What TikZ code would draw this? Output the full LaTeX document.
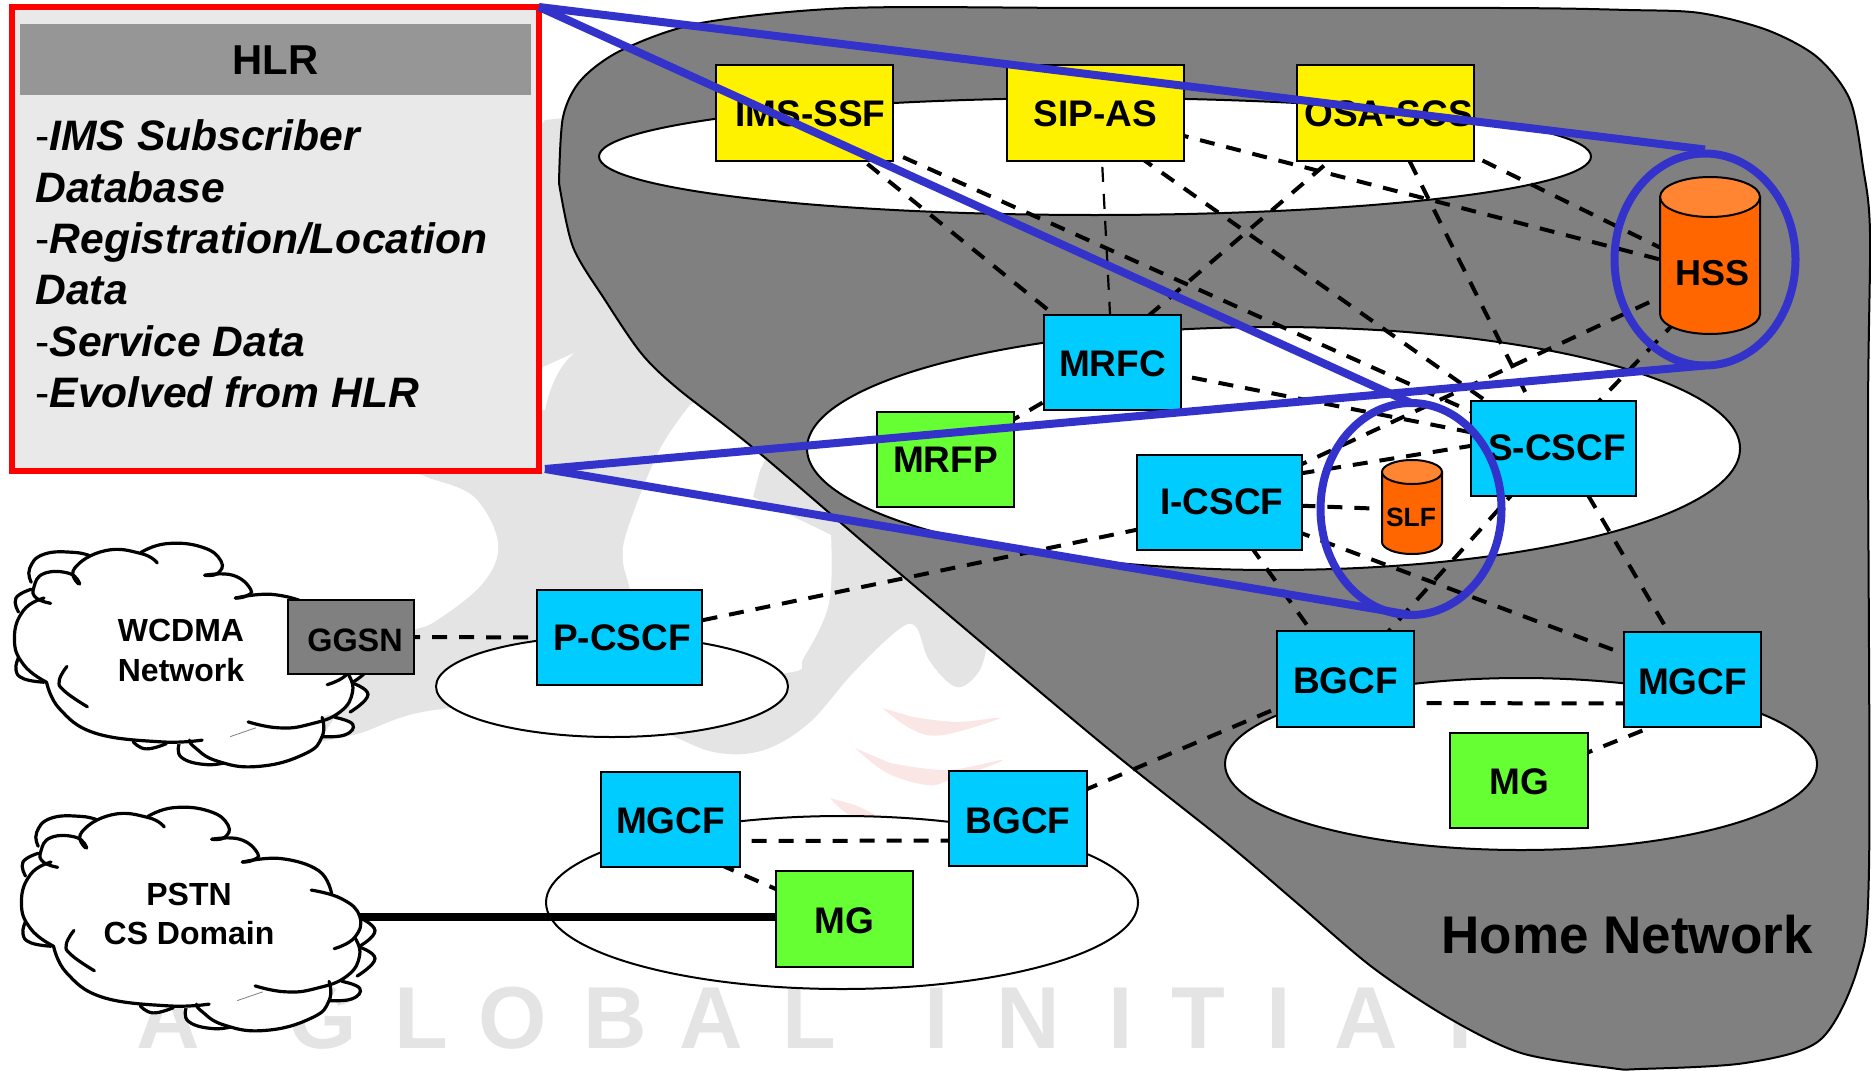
\documentclass[tikz,border=0pt]{standalone}
\usepackage{fontspec}
\setmainfont{Liberation Sans}
\usetikzlibrary{shapes.geometric}
\pgfdeclarelayer{base}
\pgfdeclarelayer{links}
\pgfdeclarelayer{overlay}
\pgfsetlayers{base,links,main,overlay}
\definecolor{cyanbox}{HTML}{00CCFF}
\definecolor{greenbox}{HTML}{66FF33}
\definecolor{orangedb}{HTML}{FF6600}
\definecolor{orangetop}{HTML}{FF8533}
\definecolor{homegrey}{HTML}{808080}
\definecolor{panel}{HTML}{E9E9E9}
\definecolor{panelhead}{HTML}{969696}
\definecolor{ringblue}{HTML}{3333CC}
\definecolor{wmgrey}{HTML}{E4E4E4}
\definecolor{wmpink}{HTML}{FBE6E6}
\tikzset{
  box/.style={rectangle,draw=black,line width=1pt,inner sep=0pt,outer sep=0pt,
    text height=14.5pt,text depth=0pt,
    font=\fontsize{18.5}{20}\selectfont\bfseries,text=black},
  ybox/.style={box,fill=yellow,minimum width=88.5pt,minimum height=48pt,text height=13.3pt},
  cbox/.style={box,fill=cyanbox,minimum width=68.5pt,minimum height=47.5pt},
  cwide/.style={box,fill=cyanbox,minimum width=82.5pt,minimum height=47.5pt},
  gbox/.style={box,fill=greenbox,minimum width=68.5pt,minimum height=47.5pt},
  oval/.style={ellipse,draw=black,fill=white,line width=1pt,inner sep=0pt,outer sep=0pt},
  ring/.style={ellipse,draw=ringblue,line width=4pt,inner sep=0pt,outer sep=0pt,
    minimum width=90.5pt,minimum height=106pt},
  link/.style={draw=black,line width=2pt,dash pattern=on 7.5pt off 6pt},
  thinlink/.style={draw=black,line width=1.1pt,dash pattern=on 7.5pt off 6pt},
  beam/.style={draw=ringblue,line width=4pt},
  cloudline/.style={draw=black,line width=1.6pt,line cap=round},
  dblabel/.style={inner sep=0pt,outer sep=0pt,font=\bfseries,text=black},
}
\newcommand{\wml}[2]{\makebox[0pt][c]{#1}\hspace{#2pt}}
\newcommand{\cloudshape}{%
  \foreach \lobe in {
    {(75,930)(72,890)(100,850)(160,845)(195,858)},
    {(75,950)(45,975)(50,1015)},
    {(50,1145)(45,1180)(60,1205)(100,1215)},
    {(700,1130)(735,1170)(705,1215)},
    {(700,1215)(735,1250)(700,1300)},
    {(670,1315)(705,1335)(690,1365)(645,1370)},
    {(275,1385)(300,1405)(340,1390)},
    {(365,1390)(370,1430)(420,1450)(465,1440)}}{
    \draw[cloudline,fill=white] plot[smooth,tension=.8] coordinates \lobe;
  }
  \fill[white] plot[smooth,tension=.5] coordinates {(100,975)(80,945)(100,905)(160,880)(220,840)(290,845)(340,820)(410,830)(445,870)(440,905)(470,910)(505,950)(495,970)(550,965)(630,1000)(650,1065)(670,1080)(705,1130)(695,1190)(705,1240)(680,1300)(645,1315)(645,1370)(610,1420)(520,1455)(440,1440)(395,1400)(330,1385)(200,1360)(130,1290)(105,1215)(60,1165)(42,1090)(60,1010)} -- cycle;
  \draw[cloudline] plot[smooth,tension=.8] coordinates {(170,935)(150,905)(100,905)(80,945)(85,975)(113,990)};
  \draw[cloudline] plot[smooth,tension=.8] coordinates {(168,935)(160,890)(220,840)(290,848)(322,875)};
  \draw[cloudline] plot[smooth,tension=.8] coordinates {(290,845)(340,820)(410,830)(447,870)(440,905)(415,910)};
  \draw[cloudline] plot[smooth,tension=.8] coordinates {(415,910)(470,910)(505,950)(495,970)(475,975)};
  \draw[cloudline] plot[smooth,tension=.7] coordinates {(475,975)(550,965)(625,1000)(650,1065)};
  \draw[cloudline] plot[smooth,tension=.8] coordinates {(610,1055)(670,1080)(705,1130)(695,1190)(655,1222)};
  \draw[cloudline] plot[smooth,tension=.8] coordinates {(695,1190)(705,1240)(680,1300)(620,1335)(560,1345)(500,1328)};
  \draw[cloudline] plot[smooth,tension=.8] coordinates {(645,1315)(645,1370)(610,1420)(520,1455)(440,1440)(395,1400)(385,1380)};
  \draw[cloudline] plot[smooth,tension=.7] coordinates {(410,1380)(330,1385)(200,1360)(130,1290)(105,1215)};
  \draw[cloudline] plot[smooth,tension=.8] coordinates {(185,1285)(140,1240)(130,1210)(145,1170)};
  \draw[cloudline] plot[smooth,tension=.8] coordinates {(105,1215)(60,1165)(42,1090)(60,1010)(100,975)};
  \draw[black!50,line width=.4pt] (465,1370) -- (515,1345);
}
\begin{document}
\begin{tikzpicture}[x=0.5pt,y=-0.5pt]
\useasboundingbox (0,0) rectangle (1871,1070);
\begin{pgfonlayer}{base}
  % watermark
  \fill[wmgrey] (350,400) -- (545,120) -- (640,110) -- (1000,600) -- (987,647)
    -- plot[smooth,tension=.6] coordinates {(987,647)(978,673)(956,687)(929,660)(916,627)(898,630)(853,673)(809,723)(764,750)(719,753)(675,737)(600,700)(434,710)(357,734)(300,745)}
    -- (300,600) -- cycle;
  \fill[white] plot[smooth,tension=.6] coordinates {(415,473)(429,478)(474,497)(498,543)(483,583)(434,622)(400,635)(320,680)(250,650)} -- (300,470) -- cycle;
  \fill[white] plot[smooth,tension=.6] coordinates {(690,405)(659,451)(628,528)(623,560)(630,590)(650,680)(786,673)(804,657)(829,603)(831,535)}
    -- (753,497) -- (760,470) -- (775,440) -- (720,390) -- cycle;
  \fill[white] (574,353) -- (543,367) -- (530,410) -- (545,410) .. controls (550,385) and (560,365) .. (574,353);
  \fill[wmpink] plot[smooth,tension=.6] coordinates {(882,708)(913,730)(943,735)(1000,718)(957,722)(913,717)} -- cycle;
  \fill[wmpink] plot[smooth,tension=.6] coordinates {(855,748)(887,773)(927,785)(950,780)(1003,760)(947,770)(890,763)} -- cycle;
  \fill[wmpink] plot[smooth,tension=.6] coordinates {(830,798)(850,815)(880,818)(855,805)} -- cycle;
  \node[name=wmtext,anchor=base west,inner sep=0pt,text=wmgrey,font=\fontsize{44}{44}\selectfont\bfseries] at (168,1048)
    {\wml{A}{77}\wml{G}{49.5}\wml{L}{45.5}\wml{O}{51.5}\wml{B}{48}\wml{A}{49}\wml{L}{63.5}\wml{I}{46}\wml{N}{46}\wml{I}{39}\wml{T}{40}\wml{I}{44}\wml{A}{47}\wml{T}{0}};
  % home network
  \draw[black,line width=1pt,fill=homegrey] plot[smooth,tension=.5] coordinates {(559,183)(563,117)(581,80)(622,50)(701,23)(850,8)(1100,8)(1500,8)(1628,10)(1700,13)(1767,30)(1817,57)(1850,100)(1863,167)(1870,233)(1868,420)(1869,867)(1858,967)(1820,1040)(1745,1063)(1640,1069)(1611,1068)(1521,1053)(1447,1017)(1372,967)(1297,903)(1223,840)(1100,742)(904,577)(757,451)(677,388)(641,353)(605,300)(573,247)(559,183)} -- cycle;
  % ovals
  \node[oval,name=ovaltop,minimum width=496pt,minimum height=58.5pt] at (1095,156.5) {};
  \node[oval,name=ovalmid,minimum width=466.5pt,minimum height=121.5pt] at (1273.5,448.5) {};
  \node[oval,name=ovalright,minimum width=296pt,minimum height=86pt] at (1521,764) {};
  \node[oval,name=ovalp,minimum width=176pt,minimum height=50.5pt] at (612,686.5) {};
  \node[oval,name=ovalb,minimum width=296pt,minimum height=86.5pt] at (842,902.5) {};
  % clouds
  \begin{scope}[shift={(0,520)},x=0.2551pt,y=-0.1754pt]\cloudshape\end{scope}
  \begin{scope}[shift={(-7,256)},x=0.2551pt,y=-0.1754pt]\cloudshape\end{scope}
  % HLR panel
  \node[rectangle,name=hlr,draw=red,line width=3pt,fill=panel,inner sep=0pt,outer sep=0pt,minimum width=263.5pt,minimum height=232pt] at (275.5,239) {};
  \node[rectangle,name=hlrhead,fill=panelhead,inner sep=0pt,minimum width=255.5pt,minimum height=35.5pt,text height=15.5pt,text depth=0pt,font=\fontsize{20.9}{22}\selectfont\bfseries] at (275.5,59.5) {HLR};
  \node[name=hlrbody,anchor=north west,inner sep=0pt,align=left,font=\fontsize{21.3}{25.7}\selectfont\bfseries\itshape] at (35,119.5)
    {{\normalfont -}IMS Subscriber\\Database\\{\normalfont -}Registration/Location\\Data\\{\normalfont -}Service Data\\{\normalfont -}Evolved from HLR};
\end{pgfonlayer}

% database cylinders
\draw[black,line width=1pt,fill=orangedb] (1660,197) -- (1660,314) arc[start angle=180,end angle=0,x radius=50,y radius=20] -- (1760,197) -- cycle;
\draw[black,line width=1pt,fill=orangetop] (1710,197) ellipse[x radius=50,y radius=20];
\draw[black,line width=1pt,fill=orangedb] (1382,472) -- (1382,542) arc[start angle=180,end angle=0,x radius=30,y radius=12] -- (1442,472) -- cycle;
\draw[black,line width=1pt,fill=orangetop] (1412,472) ellipse[x radius=30,y radius=12];
\node[dblabel,name=hss,font=\fontsize{18}{20}\selectfont\bfseries] at (1712,273) {HSS};
\node[dblabel,name=slf,font=\fontsize{13.2}{15}\selectfont\bfseries] at (1411,517) {SLF};

% boxes
\node[ybox,name=ims] at (804.5,113) {\hspace*{6pt}IMS-SSF};
\node[ybox,name=sip] at (1095.5,113) {SIP-AS};
\node[ybox,name=osa] at (1385.5,113) {\hspace*{3pt}OSA-SCS};
\node[cbox,name=mrfc] at (1112.5,362) {MRFC};
\node[gbox,name=mrfp,text height=13.3pt] at (945.5,459) {MRFP};
\node[cwide,name=icscf,text height=11.5pt] at (1219.5,502.5) {\hspace*{2.4pt}I-CSCF};
\node[cwide,name=scscf,text height=12.1pt] at (1553.5,448.5) {\hspace*{3.6pt}S-CSCF};
\node[cbox,name=bgcf,minimum height=48pt] at (1345.5,679) {BGCF};
\node[cbox,name=mgcf] at (1692.5,679.5) {MGCF};
\node[gbox,name=mg,minimum width=69pt] at (1519,780) {MG};
\node[cwide,name=pcscf,text height=13.3pt] at (619.5,637.5) {\hspace*{2.4pt}P-CSCF};
\node[box,name=ggsn,fill=homegrey,minimum width=63pt,minimum height=37pt,text height=14.8pt,font=\fontsize{16.2}{18}\selectfont\bfseries] at (351,637) {\hspace*{4pt}GGSN};
\node[cbox,name=mgcfb,minimum width=69.5pt] at (670.5,819) {MGCF};
\node[cbox,name=bgcfb,minimum width=69pt] at (1018,818.5) {BGCF};
\node[gbox,name=mgb,minimum height=48pt] at (844.5,919) {MG};

% free-standing labels
\node[inner sep=0pt,name=homelabel,font=\fontsize{26.5}{28}\selectfont\bfseries] at (1627,935) {Home Network};
\node[inner sep=0pt,name=wcdma,align=center,font=\fontsize{16}{20}\selectfont\bfseries] at (181,650) {WCDMA\\Network};
\node[inner sep=0pt,name=pstn,align=center,font=\fontsize{16}{19.5}\selectfont\bfseries] at (189,914) {PSTN\\CS Domain};
\coordinate (pstnedge) at (360,917);

% connectors
\begin{pgfonlayer}{links}
  \draw[link] (ims.center) -- (mrfc.center);
  \draw[link] (ims.center) -- (scscf.center);
  \draw[thinlink] ([xshift=2pt]sip.center) -- (mrfc.center);
  \draw[link] ([yshift=-6.5pt]sip.center) -- (scscf.center);
  \draw[link] (sip.center) -- (hss.center);
  \draw[link] (osa.center) -- ([xshift=-9pt]mrfc.center);
  \draw[link] (osa.center) -- (scscf.center);
  \draw[link] (osa.center) -- (hss.center);
  \draw[link] (icscf.center) -- (hss.center);
  \draw[link] (scscf.center) -- ([yshift=-5.5pt]hss.center);
  \draw[link] (mrfc.center) -- (mrfp.center);
  \draw[link] (mrfc.center) -- (scscf.center);
  \draw[link] ([yshift=8pt]icscf.center) -- ([yshift=8pt]scscf.center);
  \draw[link] (icscf.center) -- ([yshift=3.5pt]slf.center);
  \draw[link] ([yshift=-5pt]icscf.center) -- (pcscf.center);
  \draw[link] (icscf.center) -- (bgcf.center);
  \draw[link] (icscf.center) -- (mgcf.center);
  \draw[link] (scscf.center) -- (bgcf.center);
  \draw[link] ([xshift=3.5pt]scscf.center) -- ([xshift=2pt]mgcf.center);
  \draw[link] ([yshift=-12pt]bgcf.center) -- ([yshift=-12pt]mgcf.center);
  \draw[link] (bgcf.center) -- (bgcfb.center);
  \draw[link] ([yshift=-15.5pt]mgcf.center) -- (mg.center);
  \draw[link] (ggsn.center) -- (pcscf.center);
  \draw[link] ([yshift=-11pt]mgcfb.center) -- ([yshift=-11pt]bgcfb.center);
  \draw[link] ([yshift=-12pt]mgcfb.center) -- (mgb.center);
  \draw[black,line width=3.8pt] (pstnedge) -- (mgb.center |- pstnedge);
\end{pgfonlayer}

% callout
\begin{pgfonlayer}{overlay}
  \node[ring,name=hssring] at (1705,259.5) {};
  \node[ring,name=slfring] at (1411,509) {};
  \draw[beam] (hlr.north east) -- ([yshift=2pt]hssring.north);
  \draw[beam] (hlr.north east) -- (slfring.north);
  \draw[beam] ([xshift=3pt,yshift=1pt]hlr.south east) -- (hssring.south);
  \draw[beam] ([xshift=3pt,yshift=1pt]hlr.south east) -- (slfring.south);
\end{pgfonlayer}
\end{tikzpicture}
\end{document}
